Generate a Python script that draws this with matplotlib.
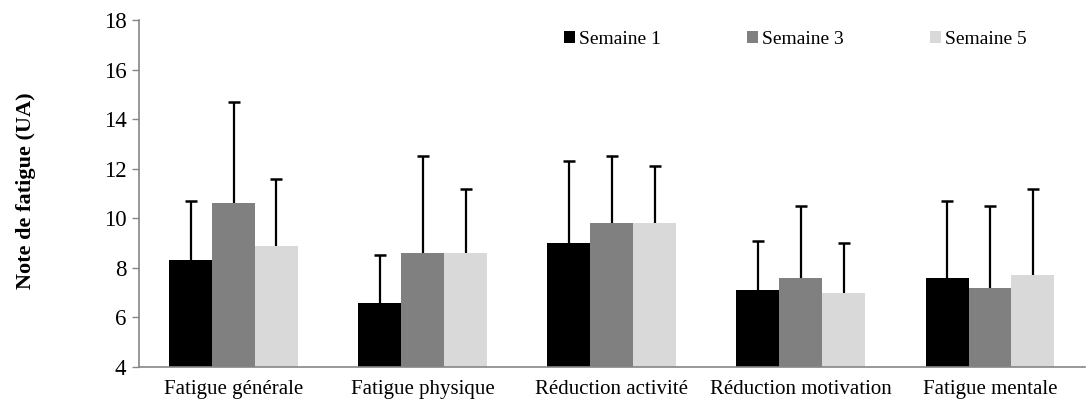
"""Note de fatigue par dimension, semaines 1, 3 et 5 (moyenne + écart-type)."""
import numpy as np
import matplotlib
matplotlib.use("Agg")
import matplotlib.pyplot as plt
from matplotlib.patches import Patch

categories = ["Fatigue générale", "Fatigue physique", "Réduction activité",
              "Réduction motivation", "Fatigue mentale"]
series = ["Semaine 1", "Semaine 3", "Semaine 5"]

# moyennes
sem1 = [8.3, 6.6, 9.0, 7.1, 7.6]
sem3 = [10.6, 8.6, 9.8, 7.6, 7.2]
sem5 = [8.9, 8.6, 9.8, 7.0, 7.7]
# écarts-types (barre d'erreur vers le haut seulement)
sd1 = [2.4, 1.9, 3.3, 2.0, 3.1]
sd3 = [4.1, 3.9, 2.7, 2.9, 3.3]
sd5 = [2.7, 2.6, 2.3, 2.0, 3.5]

colors = ["#000000", "#808080", "#d9d9d9"]

plt.rcParams["font.family"] = ["Liberation Serif", "DejaVu Serif"]

fig = plt.figure(figsize=(10.9, 4.03), dpi=100)
ax = fig.add_axes([0.1275, 0.0893, 0.8675, 0.861])

x = np.arange(len(categories))
width = 0.227
base = 4
for i, (means, sds) in enumerate([(sem1, sd1), (sem3, sd3), (sem5, sd5)]):
    pos = x + (i - 1) * width
    means = np.array(means)
    tops = means + np.array(sds)
    ax.bar(pos, means - base, width, bottom=base, color=colors[i],
           linewidth=0, zorder=2)
    # barre d'erreur : trait vertical + chapeau en haut seulement
    ax.vlines(pos, means, tops, colors="black", linewidth=1.6, zorder=3)
    ax.plot(pos, tops, linestyle="none", marker="_", markersize=9,
            markeredgewidth=1.8, color="black", zorder=3)

ax.set_xlim(-0.5, len(categories) - 0.5)
ax.set_ylim(4, 18)
ax.set_yticks(np.arange(4, 19, 2))
ax.set_xticks(x)
ax.set_xticklabels(categories, fontsize=15)
ax.tick_params(axis="y", labelsize=16.5, direction="out", length=5, color="#868686",
               width=1, pad=4)
ax.tick_params(axis="x", length=0, pad=9)

for side in ["top", "right"]:
    ax.spines[side].set_visible(False)
for side in ["left", "bottom"]:
    ax.spines[side].set_color("#868686")
    ax.spines[side].set_linewidth(1.2)

ax.set_ylabel("Note de fatigue (UA)", fontsize=16, fontweight="bold")
ax.yaxis.set_label_coords(-0.109, 0.507)

handles = [Patch(facecolor=c, edgecolor="none") for c in colors]
ax.legend(handles, series, ncol=3, loc="upper left", bbox_to_anchor=(0.4315, 1.02),
          frameon=False, fontsize=14, handlelength=0.55, handleheight=0.55,
          handletextpad=0.2, columnspacing=4.45)

fig.savefig("out.png", dpi=100)
